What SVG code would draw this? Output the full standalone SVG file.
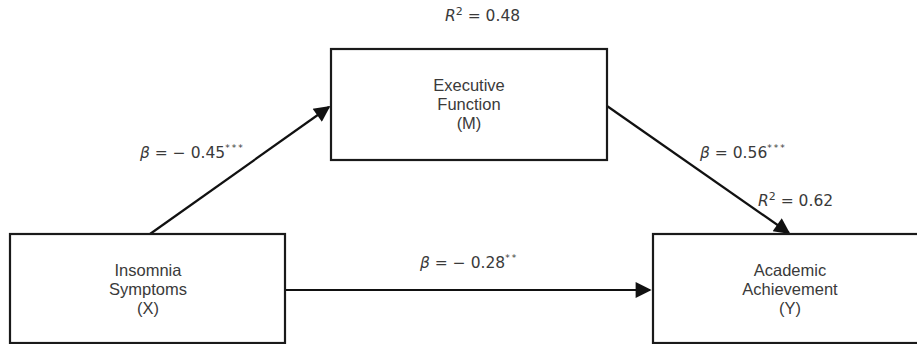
<svg xmlns="http://www.w3.org/2000/svg" width="917" height="344" viewBox="0 0 917 344">
  <style>
    .box { fill: #ffffff; stroke: #1a1a1a; stroke-width: 2.2; }
    .node-text { font-family: "Liberation Sans", Arial, sans-serif; font-size: 16.5px; fill: #3a3a3a; text-anchor: middle; }
    .coef { font-family: "DejaVu Sans", "Liberation Sans", sans-serif; font-size: 15.5px; fill: #3a3a3a; }
    .coef .it { font-style: italic; }
    .sup { font-size: 9px; letter-spacing: 2px; }
    .sq { font-size: 11px; }
    .edge { stroke: #111111; stroke-width: 2.2; fill: none; marker-end: url(#arrow); }
  </style>
  <defs>
    <marker id="arrow" viewBox="0 0 10 10" refX="9" refY="5" markerUnits="userSpaceOnUse" markerWidth="20" markerHeight="16" orient="auto">
      <path d="M0,0 L10,5 L0,10 Z" fill="#111111"/>
    </marker>
  </defs>
  <rect width="917" height="344" fill="#ffffff"/>

  <!-- connectors -->
  <g id="connectors">
    <line class="edge" x1="150" y1="234" x2="329" y2="107"/>
    <line class="edge" x1="607" y1="106" x2="789" y2="233"/>
    <line class="edge" x1="286" y1="290" x2="650" y2="290"/>
  </g>

  <!-- nodes -->
  <g id="mediator">
    <rect class="box" x="331" y="49" width="276" height="111"/>
    <text class="node-text" x="469" y="91">Executive</text>
    <text class="node-text" x="469" y="110">Function</text>
    <text class="node-text" x="469" y="129">(M)</text>
  </g>
  <g id="predictor">
    <rect class="box" x="10" y="234" width="275" height="109"/>
    <text class="node-text" x="148" y="276">Insomnia</text>
    <text class="node-text" x="148" y="295">Symptoms</text>
    <text class="node-text" x="148" y="314">(X)</text>
  </g>
  <g id="outcome">
    <rect class="box" x="653" y="234" width="280" height="109"/>
    <text class="node-text" x="790" y="276">Academic</text>
    <text class="node-text" x="790" y="295">Achievement</text>
    <text class="node-text" x="790" y="314">(Y)</text>
  </g>

  <!-- path coefficients and explained variance -->
  <g id="labels">
    <text class="coef" x="445" y="21"><tspan class="it">R</tspan><tspan class="sq" dy="-6">2</tspan><tspan dy="6"> = 0.48</tspan></text>
    <text class="coef" x="140" y="158"><tspan class="it">β</tspan> = − 0.45<tspan class="sup" dy="-7">***</tspan></text>
    <text class="coef" x="700" y="158"><tspan class="it">β</tspan> = 0.56<tspan class="sup" dy="-7">***</tspan></text>
    <text class="coef" x="758" y="206"><tspan class="it">R</tspan><tspan class="sq" dy="-6">2</tspan><tspan dy="6"> = 0.62</tspan></text>
    <text class="coef" x="420" y="268"><tspan class="it">β</tspan> = − 0.28<tspan class="sup" dy="-7">**</tspan></text>
  </g>
</svg>
